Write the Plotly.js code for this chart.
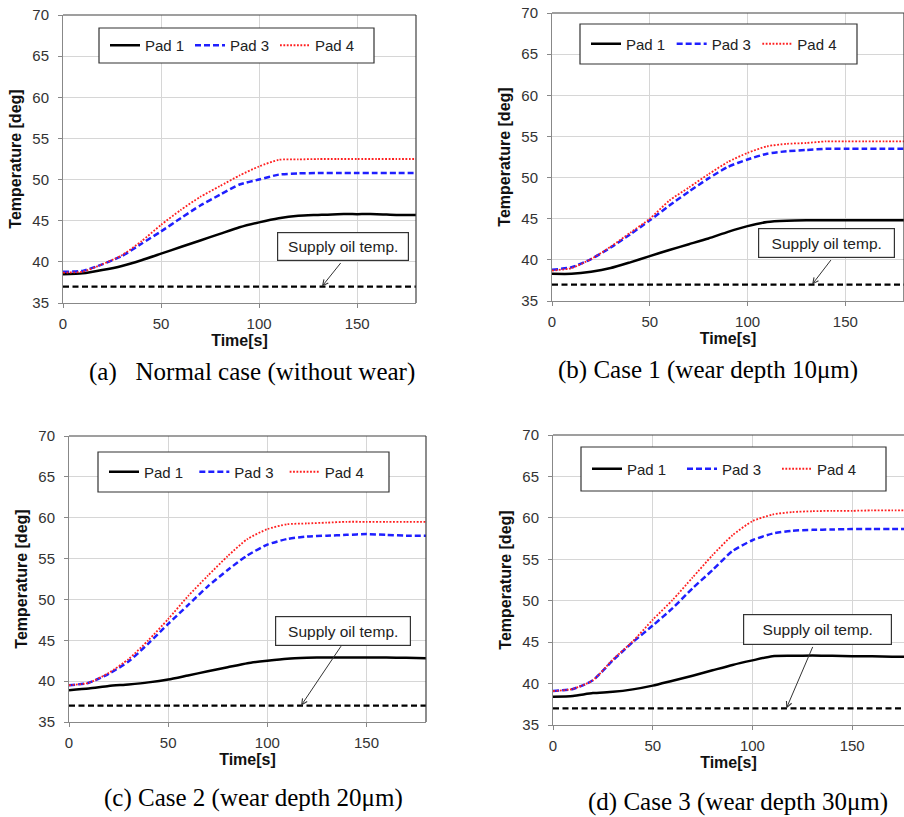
<!DOCTYPE html>
<html>
<head>
<meta charset="utf-8">
<script src="https://cdn.plot.ly/plotly-3.0.1.min.js"></script>
<style>html,body{margin:0;padding:0;background:#fff;}#chart{width:904px;height:817px;}</style>
</head>
<body>
<div id="chart"></div>
<script>
// ---------- DATA ----------
const time = [0,10,20,30,40,50,60,70,80,90,100,110,120,130,140,150,160,170,180];
const seriesNames = ["Pad 1","Pad 3","Pad 4"];
const supplyTime = [0,180];
const supplyTemp = [37,37];
const supplyLabel = "Supply oil temp.";
const xTitle = "Time[s]";
const yTitle = "Temperature [deg]";

// (a) Normal case
const pad1_a = [38.5,38.6,39.0,39.5,40.2,41.0,41.8,42.6,43.4,44.2,44.8,45.3,45.6,45.7,45.8,45.8,45.8,45.7,45.7];
const pad3_a = [38.8,38.9,39.7,40.7,42.2,43.7,45.3,46.85,48.15,49.4,50.0,50.6,50.75,50.8,50.8,50.8,50.8,50.8,50.8];
const pad4_a = [38.7,38.8,39.7,40.8,42.5,44.5,46.3,47.9,49.2,50.5,51.6,52.4,52.45,52.5,52.5,52.5,52.5,52.5,52.5];
// (b) Case 1
const pad1_b = [38.3,38.3,38.55,39.0,39.7,40.45,41.2,41.9,42.6,43.4,44.1,44.6,44.75,44.8,44.8,44.8,44.8,44.8,44.8];
const pad3_b = [38.8,39.1,40.1,41.5,43.1,44.8,46.6,48.3,49.9,51.3,52.2,52.9,53.2,53.35,53.5,53.5,53.5,53.5,53.5];
const pad4_b = [38.7,39.0,40.1,41.6,43.3,45.0,47.2,48.8,50.4,51.9,53.0,53.8,54.1,54.2,54.4,54.4,54.4,54.4,54.4];
// (c) Case 2
const pad1_c = [38.9,39.1,39.4,39.6,39.85,40.2,40.7,41.2,41.7,42.2,42.5,42.75,42.85,42.9,42.9,42.9,42.9,42.85,42.8];
const pad3_c = [39.5,39.8,40.9,42.4,44.6,47.0,49.3,51.6,53.6,55.4,56.7,57.4,57.7,57.8,57.9,58.0,57.9,57.8,57.8];
const pad4_c = [39.5,39.8,41.0,42.7,45.0,47.6,50.4,52.9,55.3,57.4,58.6,59.2,59.3,59.4,59.5,59.5,59.5,59.5,59.5];
// (d) Case 3
const pad1_d = [38.4,38.5,38.85,39.0,39.3,39.75,40.35,40.95,41.6,42.25,42.8,43.3,43.35,43.4,43.35,43.3,43.3,43.25,43.25];
const pad3_d = [39.1,39.35,40.4,42.8,45.0,47.0,49.1,51.5,53.7,56.0,57.3,58.1,58.45,58.55,58.6,58.65,58.65,58.65,58.65];
const pad4_d = [39.1,39.35,40.4,42.9,45.1,47.7,50.1,52.8,55.5,57.9,59.6,60.4,60.7,60.8,60.85,60.85,60.9,60.9,60.9];

const captions = [
  "(a)\u00a0\u00a0\u00a0Normal case (without wear)",
  "(b) Case 1 (wear depth 10\u03bcm)",
  "(c) Case 2 (wear depth 20\u03bcm)",
  "(d) Case 3 (wear depth 30\u03bcm)"
];
// arrow tip time for "Supply oil temp." in each panel
const arrowTipTime = [132,133,117,117];

// ---------- LAYOUT HELPERS ----------
const W = 904, H = 817;
const PX = x => x / W;
const PY = y => 1 - y / H;

const panels = [
  {data:[pad1_a,pad3_a,pad4_a], plot:[63,15,416,303], xmax:180, legBox:[99,28,374,63],
   oilBox:[277,232,409,261], arrowFrom:[342,261], arrowTo:[322,286], cap:[87,372], rightBorder:true},
  {data:[pad1_b,pad3_b,pad4_b], plot:[552,13,904,301], xmax:180, legBox:[580,24,857,64],
   oilBox:[758,228,895,258], arrowFrom:[833,258], arrowTo:[813,284], cap:[556,370], rightBorder:true},
  {data:[pad1_c,pad3_c,pad4_c], plot:[69,436,426,722], xmax:180, legBox:[98,452,389,492],
   oilBox:[275,616,411,646], arrowFrom:[341,646], arrowTo:[300,707], cap:[102,798], rightBorder:true},
  {data:[pad1_d,pad3_d,pad4_d], plot:[553,435,904,725], xmax:176, legBox:[581,447,886,491],
   oilBox:[743,614,892,645], arrowFrom:[813,645], arrowTo:[786,708], cap:[586,802], rightBorder:false}
];

const lineStyles = [
  {color:"#000000", width:2.5, dash:"solid"},
  {color:"#1f1fff", width:2.5, dash:"6px,3px"},
  {color:"#ff1f1f", width:1.8, dash:"1.8px,1.6px"}
];

const traces = [];
const layout = {
  width: W, height: H,
  margin: {l:0, r:0, t:0, b:0, autoexpand:false},
  paper_bgcolor: "#fff", plot_bgcolor: "#fff",
  font: {family: "Liberation Sans, Arial, sans-serif", size: 15, color: "#333"},
  shapes: [], annotations: []
};

panels.forEach((p, i) => {
  const n = i === 0 ? "" : String(i + 1);
  const xa = "x" + n, ya = "y" + n;
  const legName = i === 0 ? "legend" : "legend" + (i + 1);
  const [x0, y0, x1, y1] = p.plot;

  p.data.forEach((vals, k) => {
    traces.push({
      type: "scatter", mode: "lines", x: time, y: vals, name: seriesNames[k],
      xaxis: xa, yaxis: ya, legend: legName,
      line: Object.assign({shape: "spline", smoothing: 0.6}, lineStyles[k]),
      hoverinfo: "skip"
    });
  });
  traces.push({
    type: "scatter", mode: "lines", x: supplyTime, y: supplyTemp, name: supplyLabel,
    xaxis: xa, yaxis: ya, showlegend: false,
    line: {color: "#000", width: 2.2, dash: "6px,3.5px"}, hoverinfo: "skip"
  });

  layout["xaxis" + n] = {
    domain: [PX(x0), PX(x1)], anchor: ya, range: [0, p.xmax],
    tickvals: [0,50,100,150], ticks: "outside", ticklen: 4, tickcolor: "#888",
    showgrid: true, gridcolor: "#d6d6d6", gridwidth: 1, zeroline: false,
    showline: true, linecolor: "#888", linewidth: 1,
    tickfont: {size: 15, color: "#333"}, ticklabelstandoff: 3,
    title: {text: xTitle, font: {size: 16, color: "#111", weight: "bold"}, standoff: 2},
    fixedrange: true
  };
  layout["yaxis" + n] = {
    domain: [PY(y1), PY(y0)], anchor: xa, range: [35, 70],
    tickvals: [35,40,45,50,55,60,65,70], ticks: "outside", ticklen: 4, tickcolor: "#888",
    showgrid: true, gridcolor: "#d6d6d6", gridwidth: 1, zeroline: false,
    showline: true, linecolor: "#888", linewidth: 1,
    tickfont: {size: 15, color: "#333"}, ticklabelstandoff: 6,
    title: {text: yTitle, font: {size: 16, color: "#111", weight: "bold"}, standoff: 6},
    fixedrange: true
  };

  // top/right dark border
  layout.shapes.push({type:"line", xref:xa+" domain", yref:ya+" domain", x0:0, x1:1, y0:1, y1:1,
    line:{color:"#404040", width:1.2}});
  if (p.rightBorder) layout.shapes.push({type:"line", xref:xa+" domain", yref:ya+" domain", x0:1, x1:1, y0:0, y1:1,
    line:{color:"#404040", width:1.2}});

  // legend box
  const [lx0, ly0, lx1, ly1] = p.legBox;
  layout.shapes.push({type:"rect", xref:"paper", yref:"paper", x0:PX(lx0), x1:PX(lx1), y0:PY(ly1), y1:PY(ly0),
    line:{color:"#333", width:1.2}, fillcolor:"#fff", layer:"above"});
  const entryW = (lx1 - lx0 - 20) / 3 - 45;
  layout[legName] = {
    orientation: "h", x: PX(lx0 + 6), xanchor: "left", y: PY((ly0 + ly1) / 2), yanchor: "middle",
    bgcolor: "rgba(0,0,0,0)", borderwidth: 0, entrywidth: entryW, entrywidthmode: "pixels",
    font: {size: 15, color: "#222"}, itemclick: false, itemdoubleclick: false
  };

  // Supply oil label box
  const [ox0, oy0, ox1, oy1] = p.oilBox;
  layout.annotations.push({
    xref:"paper", yref:"paper", x: PX((ox0+ox1)/2), y: PY((oy0+oy1)/2), xanchor:"center", yanchor:"middle",
    text: supplyLabel, showarrow:false, font:{size:15.5, color:"#222"},
    bgcolor:"#fff", bordercolor:"#333", borderwidth:1.2, borderpad:0,
    width: ox1-ox0-2, height: oy1-oy0-2, align:"center"
  });
  // arrow
  layout.annotations.push({
    xref: xa, yref: ya, x: arrowTipTime[i], y: supplyTemp[0], text: "",
    showarrow: true, arrowhead: 5, arrowsize: 1.1, arrowwidth: 1, arrowcolor: "#333",
    ax: p.arrowFrom[0] - p.arrowTo[0], ay: p.arrowFrom[1] - p.arrowTo[1], standoff: 0
  });
  // caption
  layout.annotations.push({
    xref:"paper", yref:"paper", x: PX(p.cap[0]), y: PY(p.cap[1]), xanchor:"left", yanchor:"middle",
    text: captions[i], showarrow:false,
    font:{family:"Liberation Serif, Times New Roman, serif", size:25, color:"#000"}
  });
});

Plotly.newPlot("chart", traces, layout, {displayModeBar:false, staticPlot:true});
</script>
</body>
</html>
